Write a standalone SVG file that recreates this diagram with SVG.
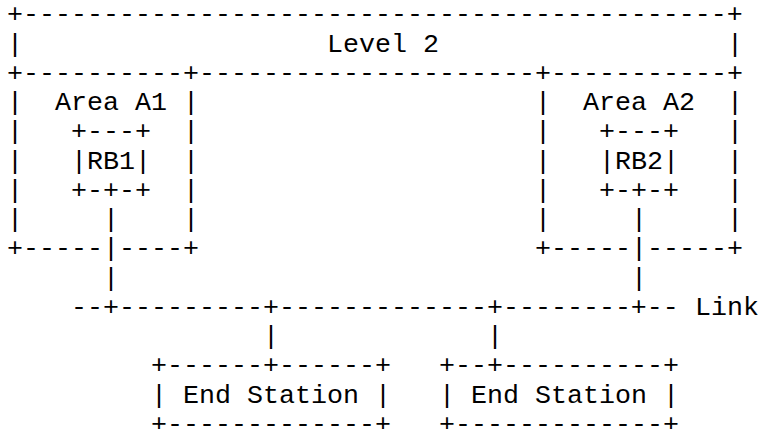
<svg xmlns="http://www.w3.org/2000/svg" width="761" height="429" viewBox="0 0 761 429">
<style>
text { font-family: "Courier New", "Liberation Mono", monospace; font-size: 26.67px; fill: #000; white-space: pre; }
</style>
<rect x="0" y="0" width="761" height="429" fill="#fff"/>
<g id="level2">
<text x="7" y="22.3">+--------------------------------------------+</text>
<text x="7" y="51.6">|</text>
<text x="327" y="51.6">Level 2</text>
<text x="727" y="51.6">|</text>
<text x="199" y="80.8">---------------------</text>
</g>
<g id="areaA1">
<text x="7" y="80.8">+----------+</text>
<text x="7" y="110.1">|</text><text x="183" y="110.1">|</text>
<text x="55" y="110.1">Area A1</text>
<text x="7" y="139.3">|</text><text x="183" y="139.3">|</text>
<text x="7" y="168.6">|</text><text x="183" y="168.6">|</text>
<text x="7" y="197.9">|</text><text x="183" y="197.9">|</text>
<text x="7" y="227.1">|</text><text x="183" y="227.1">|</text>
<text x="7" y="256.4">+-----</text><text x="119" y="256.4">----+</text>
</g>
<g id="areaA2">
<text x="535" y="80.8">+-----------+</text>
<text x="535" y="110.1">|</text><text x="727" y="110.1">|</text>
<text x="583" y="110.1">Area A2</text>
<text x="535" y="139.3">|</text><text x="727" y="139.3">|</text>
<text x="535" y="168.6">|</text><text x="727" y="168.6">|</text>
<text x="535" y="197.9">|</text><text x="727" y="197.9">|</text>
<text x="535" y="227.1">|</text><text x="727" y="227.1">|</text>
<text x="535" y="256.4">+-----</text><text x="647" y="256.4">-----+</text>
</g>
<g id="RB1">
<text x="71" y="139.3">+---+</text>
<text x="71" y="168.6">|RB1|</text>
<text x="71" y="197.9">+-+-+</text>
</g>
<g id="RB2">
<text x="599" y="139.3">+---+</text>
<text x="599" y="168.6">|RB2|</text>
<text x="599" y="197.9">+-+-+</text>
</g>
<g id="endStation1">
<text x="151" y="373.4">+------+------+</text>
<text x="151" y="402.7">| End Station |</text>
<text x="151" y="431.9">+-------------+</text>
</g>
<g id="endStation2">
<text x="439" y="373.4">+--+----------+</text>
<text x="439" y="402.7">| End Station |</text>
<text x="439" y="431.9">+-------------+</text>
</g>
<g id="connectors">
<text x="103" y="227.1">|</text>
<text x="103" y="256.4">|</text>
<text x="103" y="285.6">|</text>
<text x="631" y="227.1">|</text>
<text x="631" y="256.4">|</text>
<text x="631" y="285.6">|</text>
<text x="71" y="314.9">--+---------+-------------+--------+--</text>
<text x="695" y="314.9">Link</text>
<text x="263" y="344.2">|</text>
<text x="487" y="344.2">|</text>
</g>
</svg>
